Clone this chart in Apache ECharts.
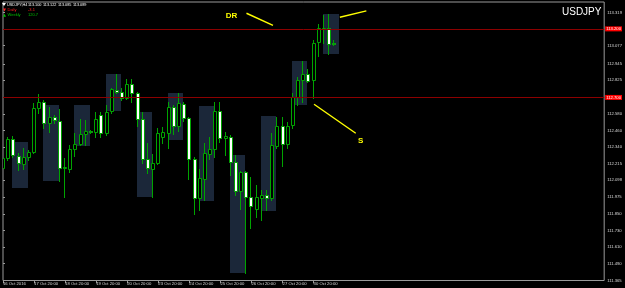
<!DOCTYPE html>
<html><head><meta charset="utf-8">
<script src="https://cdn.jsdelivr.net/npm/echarts@6/dist/echarts.min.js"></script>
<style>html,body{margin:0;padding:0;background:#000}#c{width:625px;height:288px}</style>
</head><body><div id="c"></div>
<script>
// ---------------- DATA ----------------
const symbolName = 'USDJPY';
const headerLabel = 'USDJPY,H4';
const headerOHLC = ['113.100', '113.122', '113.085', '113.089'];
const dailyLabel = ['Daily', '-3.1'];
const weeklyLabel = ['Weekly', '120.7'];

const barOpen = [112.186,112.259,112.397,112.273,112.215,112.266,112.302,112.623,112.667,112.514,
  112.558,112.528,112.186,112.178,112.324,112.361,112.434,112.455,112.448,112.572,
  112.441,112.601,112.755,112.740,112.696,112.798,112.733,112.543,112.251,112.178,
  112.222,112.412,112.441,112.631,112.492,112.652,112.550,112.251,111.967,112.105,
  112.288,112.324,112.601,112.404,112.412,112.229,112.018,112.156,111.974,111.887,
  111.967,111.989,111.967,112.346,112.492,112.361,112.499,112.703,112.827,112.871,
  112.827,113.105,113.199,113.207,113.100];
const barClose = [112.259,112.397,112.280,112.222,112.266,112.302,112.623,112.667,112.514,112.558,
  112.536,112.186,112.193,112.324,112.361,112.434,112.455,112.448,112.543,112.441,
  112.594,112.762,112.740,112.696,112.798,112.733,112.543,112.251,112.186,112.222,
  112.441,112.448,112.631,112.492,112.660,112.550,112.251,111.967,112.113,112.295,
  112.324,112.601,112.404,112.419,112.229,112.018,112.156,111.974,111.908,111.974,
  111.989,111.967,112.353,112.492,112.361,112.492,112.703,112.827,112.871,112.820,
  113.097,113.207,113.207,113.090,113.089];
const barLow = [112.156,112.244,112.266,112.171,112.178,112.244,112.295,112.587,112.477,112.448,
  112.514,112.091,111.974,112.156,112.273,112.353,112.353,112.441,112.412,112.412,
  112.426,112.587,112.733,112.682,112.689,112.667,112.492,112.222,112.149,111.974,
  112.215,112.368,112.331,112.434,112.455,112.528,112.105,111.850,111.879,111.952,
  112.251,112.266,112.375,112.280,112.135,111.989,111.887,111.420,111.748,111.828,
  111.806,111.879,111.952,112.331,112.200,112.331,112.477,112.645,112.667,112.813,
  112.696,113.003,113.097,113.017,113.085];
const barHigh = [112.339,112.412,112.419,112.295,112.331,112.317,112.660,112.725,112.682,112.631,
  112.572,112.616,112.259,112.353,112.441,112.543,112.536,112.463,112.594,112.594,
  112.645,112.769,112.871,112.769,112.835,112.835,112.740,112.594,112.368,112.288,
  112.477,112.485,112.667,112.645,112.733,112.667,112.558,112.266,112.178,112.368,
  112.412,112.667,112.667,112.448,112.426,112.280,112.160,112.164,112.120,112.062,
  112.025,112.025,112.441,112.558,112.558,112.521,112.733,112.849,112.966,112.908,
  113.119,113.236,113.302,113.309,113.122];

// session boxes: start bar, end bar, top price, bottom price
const boxStart = [2, 8, 14, 20, 26, 32, 38, 44, 50, 56, 62];
const boxEnd   = [5, 11, 17, 23, 29, 35, 41, 47, 53, 59, 65];
const boxTop    = [112.375,112.645,112.645,112.871,112.594,112.733,112.638,112.280,112.565,112.966,113.309];
const boxBottom = [112.040,112.091,112.346,112.601,111.974,112.390,111.945,111.420,111.872,112.645,113.017];

const xTickIndex  = [0, 6, 12, 18, 24, 30, 36, 42, 48, 54, 60];
const xTickLabels = ['16 Oct 2016','17 Oct 20:00','18 Oct 20:00','19 Oct 20:00','20 Oct 20:00',
  '23 Oct 20:00','24 Oct 20:00','25 Oct 20:00','26 Oct 20:00','27 Oct 20:00','30 Oct 20:00'];
const yTickLabels = ['111.365','111.490','111.610','111.730','111.850','111.975','112.098','112.215',
  '112.340','112.460','112.580','112.825','112.945','113.077','113.197','113.319'];

const levelLines = [113.199, 112.701];
const lastPrice = 113.089;

// annotations (bar index / price)
const annoX1 = [47.03, 65.07, 60.08];
const annoP1 = [113.314, 113.285, 112.650];
const annoX2 = [52.15, 70.19, 68.14];
const annoP2 = [113.226, 113.331, 112.439];
const annoTextX = [44.15, 69.1];
const annoTextP = [113.294, 112.386];
const annoText = ['DR', 'S'];

// ---------------- CHART ----------------
const GREEN = '#00a400';
const YELLOW = '#ffff00';
const AXIS_C = '#9a9a9a';
const LABEL_C = '#d8d8d8';
const FONT = 'Liberation Sans';
const BAR_W = 5.21;
const X_MAX = 605 / BAR_W;
const Y_MIN = 111.365, Y_MAX = 113.396;

const candleData = barOpen.map((o, i) => [i, o, barClose[i], barLow[i], barHigh[i]]);
const boxData = boxStart.map((s, i) => [s, boxEnd[i], boxTop[i], boxBottom[i]]);
const annoLineData = annoX1.map((x, i) => [x, annoP1[i], annoX2[i], annoP2[i]]);
const annoTextData = annoTextX.map((x, i) => [x, annoTextP[i]]);
const yTickValues = yTickLabels.map(Number);

function renderCandle(params, api) {
  const i = api.value(0), o = api.value(1), c = api.value(2), l = api.value(3), h = api.value(4);
  const pO = api.coord([i, o]), pC = api.coord([i, c]), pL = api.coord([i, l]), pH = api.coord([i, h]);
  const k = Math.round(pO[0]);
  const top = Math.round(Math.min(pO[1], pC[1]));
  const bot = Math.round(Math.max(pO[1], pC[1]));
  const bull = c >= o;
  return {
    type: 'group',
    children: [
      { type: 'line', shape: { x1: k - 0.5, y1: Math.round(pH[1]), x2: k - 0.5, y2: Math.round(pL[1]) + 1 },
        style: { stroke: GREEN, lineWidth: 1 } },
      { type: 'rect', shape: { x: k - 1.5, y: top + 0.5, width: 3, height: Math.max(bot - top, 0) },
        style: { fill: bull ? '#000000' : '#ffffff', stroke: GREEN, lineWidth: 1 } }
    ]
  };
}
function renderBox(params, api) {
  const a = api.coord([api.value(0), api.value(2)]);
  const b = api.coord([api.value(1), api.value(3)]);
  return { type: 'rect', shape: { x: Math.round(a[0]) - 1, y: Math.round(a[1]), width: Math.round(b[0]) - Math.round(a[0]), height: Math.round(b[1]) - Math.round(a[1]) },
    style: { fill: '#1b2739' } };
}
function renderAnnoLine(params, api) {
  const a = api.coord([api.value(0), api.value(1)]);
  const b = api.coord([api.value(2), api.value(3)]);
  return { type: 'line', shape: { x1: a[0], y1: a[1], x2: b[0], y2: b[1] }, style: { stroke: YELLOW, lineWidth: 1.4 } };
}
function renderAnnoText(params, api) {
  const a = api.coord([api.value(0), api.value(1)]);
  return { type: 'text', x: a[0], y: a[1], style: { text: annoText[params.dataIndex], fill: YELLOW,
    font: 'bold 8px ' + FONT, align: 'center', verticalAlign: 'middle' } };
}

const lvlLabel = (bg, fg) => ({ show: true, position: 'end', distance: 1, backgroundColor: bg, color: fg,
  fontSize: 4.2, fontFamily: FONT, padding: [1, 1, 0, 1], formatter: p => Number(p.value).toFixed(3) });

const chart = echarts.init(document.getElementById('c'), null, { renderer: 'canvas', width: 625, height: 288 });
chart.setOption({
  backgroundColor: '#000000',
  animation: false,
  grid: { left: 1, right: 19, top: 2, bottom: 7.5, show: true, borderColor: AXIS_C, borderWidth: 1, backgroundColor: '#000000' },
  xAxis: {
    type: 'value', min: 0, max: X_MAX,
    splitLine: { show: false }, axisLine: { show: false },
    axisTick: { show: true, customValues: xTickIndex, length: 3, lineStyle: { color: AXIS_C } },
    axisLabel: { customValues: xTickIndex, color: LABEL_C, fontSize: 4.2, fontFamily: FONT, align: 'left', margin: 1.5,
      formatter: v => { const j = xTickIndex.indexOf(Math.round(v)); return j >= 0 ? xTickLabels[j] : ''; } }
  },
  yAxis: {
    type: 'value', position: 'right', min: Y_MIN, max: Y_MAX,
    splitLine: { show: false }, axisLine: { show: false },
    axisTick: { show: true, customValues: yTickValues, length: 2, lineStyle: { color: AXIS_C } },
    axisLabel: { customValues: yTickValues, color: LABEL_C, fontSize: 4.2, fontFamily: FONT, margin: 3,
      formatter: v => v.toFixed(3) }
  },
  graphic: [
    { type: 'polygon', shape: { points: [[2, 3], [6, 3], [4, 6]] }, style: { fill: '#ffffff' } },
    { type: 'text', x: 7, y: 4.5, style: { text: headerLabel, fill: '#ffffff', font: '3.8px ' + FONT, verticalAlign: 'middle' } },
    ...headerOHLC.map((t, i) => ({ type: 'text', x: 28 + i * 15, y: 4.5, style: { text: t, fill: '#ffffff', font: '3.8px ' + FONT, verticalAlign: 'middle' } })),
    { type: 'polygon', shape: { points: [[3, 8.5], [6, 8.5], [4.5, 11.5]] }, style: { fill: '#ff2020' } },
    { type: 'text', x: 7.5, y: 10, style: { text: dailyLabel[0], fill: '#ff2020', font: '4px ' + FONT, verticalAlign: 'middle' } },
    { type: 'text', x: 28, y: 10, style: { text: dailyLabel[1], fill: '#ff2020', font: '4px ' + FONT, verticalAlign: 'middle' } },
    { type: 'polygon', shape: { points: [[3, 16.8], [6, 16.8], [4.5, 13.8]] }, style: { fill: '#00c000' } },
    { type: 'text', x: 7.5, y: 15.3, style: { text: weeklyLabel[0], fill: '#00c000', font: '4px ' + FONT, verticalAlign: 'middle' } },
    { type: 'text', x: 28, y: 15.3, style: { text: weeklyLabel[1], fill: '#00c000', font: '4px ' + FONT, verticalAlign: 'middle' } },
    { type: 'text', x: 562, y: 12.5, style: { text: symbolName, fill: '#ffffff', font: '10px ' + FONT, verticalAlign: 'middle' } }
  ],
  series: [
    {
      type: 'custom', name: 'boxes', renderItem: renderBox, data: boxData, z: 1, clip: true,
      encode: { x: [0, 1], y: [2, 3] },
      markLine: {
        silent: true, symbol: ['none', 'none'], animation: false,
        data: [
          ...levelLines.map(v => ({ yAxis: v, lineStyle: { color: '#8c0000', width: 1, type: 'solid' }, label: lvlLabel('#ff0000', '#ffffff') })),
          { yAxis: lastPrice, lineStyle: { opacity: 0 }, label: lvlLabel('#ffffff', '#000000') }
        ]
      }
    },
    { type: 'custom', name: 'candles', renderItem: renderCandle, data: candleData, z: 3, clip: true,
      encode: { x: 0, y: [1, 2, 3, 4] } },
    { type: 'custom', name: 'annoLines', renderItem: renderAnnoLine, data: annoLineData, z: 4, clip: false,
      encode: { x: [0, 2], y: [1, 3] } },
    { type: 'custom', name: 'annoText', renderItem: renderAnnoText, data: annoTextData, z: 4, clip: false,
      encode: { x: 0, y: 1 } }
  ]
});
</script></body></html>
